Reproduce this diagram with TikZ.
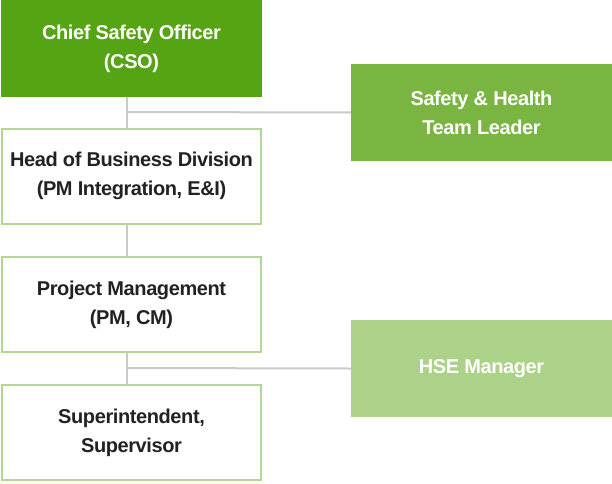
\documentclass[tikz,border=0pt]{standalone}
\usepackage{fontspec}
\setmainfont{Liberation Sans}[BoldFeatures={LetterSpace=-2}]
\usetikzlibrary{calc}
\definecolor{darkgreen}{HTML}{55A414}
\definecolor{midgreen}{HTML}{7AB441}
\definecolor{lightgreen}{HTML}{ACD28A}
\definecolor{outline}{HTML}{B3D894}
\definecolor{linkgray}{HTML}{CACACA}
\definecolor{textdark}{HTML}{222222}
\tikzset{
  filled/.style={minimum width=261pt, minimum height=97pt, inner sep=0pt, align=center, text=white},
  plain/.style={draw=outline, line width=2pt, fill=white, minimum width=259pt, minimum height=95pt, inner sep=0pt, align=center, text=textdark},
  link/.style={line width=2pt, color=linkgray},
  every node/.append style={font=\fontsize{20}{29}\selectfont\bfseries}
}
\begin{document}
\begin{tikzpicture}[x=1pt, y=1pt]
\useasboundingbox (0,0) rectangle (612,483);
% left column
\node[filled, fill=darkgreen] (cso) at (131.5,434.5) {Chief Safety Officer\\(CSO)};
\node[plain] (head) at (131.5,307) {Head of Business Division\\(PM Integration, E\&I)};
\node[plain] (pm) at (131.5,178.5) {Project Management\\(PM, CM)};
\node[plain] (sup) at (131.5,50.5) {Superintendent,\\Supervisor};
% right column
\node[filled, fill=midgreen] (sh) at (481.5,370.5) {Safety \& Health\\Team Leader};
\node[filled, fill=lightgreen] (hse) at (481.5,114.5) {HSE Manager};
% links
\coordinate (j1) at (127,371);
\coordinate (j2) at (127,115);
\draw[link] (cso.south -| j1) -- (head.north -| j1);
\draw[link] (head.south -| j1) -- (pm.north -| j1);
\draw[link] (pm.south -| j2) -- (sup.north -| j2);
\draw[link] (j1) -- (sh.west);
\draw[link] (j2) -- (hse.west);
\end{tikzpicture}
\end{document}
